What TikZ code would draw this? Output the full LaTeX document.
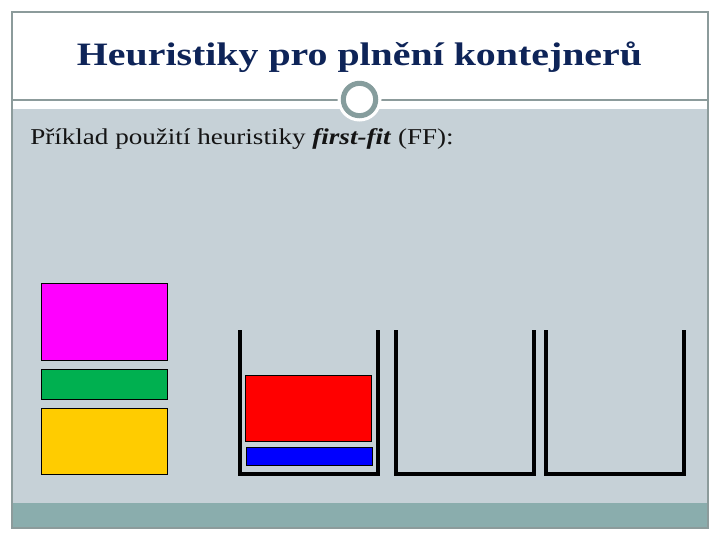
\documentclass[tikz,border=0pt]{standalone}
\usepackage{fontspec}
\usepackage{graphicx}
\setmainfont{Liberation Serif}
\definecolor{titlenavy}{RGB}{14,36,88}
\definecolor{panelgray}{RGB}{198,209,215}
\definecolor{barteal}{RGB}{138,173,173}
\definecolor{framegray}{RGB}{140,155,155}
\definecolor{ringgray}{RGB}{134,157,157}
\definecolor{bodytext}{RGB}{20,20,20}
\definecolor{itmagenta}{RGB}{255,0,255}
\definecolor{itgreen}{RGB}{0,176,80}
\definecolor{ityellow}{RGB}{255,204,0}
\definecolor{itred}{RGB}{255,0,0}
\definecolor{itblue}{RGB}{0,0,255}
\tikzset{
  item/.style={draw=black, line width=0.7pt},
  bin/.style={draw=black, line width=3pt, line join=miter},
}
\begin{document}
\begin{tikzpicture}[x=0.75pt,y=-0.75pt]
\useasboundingbox (0,0) rectangle (720,540);
\fill[white] (0,0) rectangle (720,540);
% panels
\fill[panelgray] (12,109) rectangle (708,503);
\fill[barteal] (12,503) rectangle (708,528);
\draw[framegray, line width=0.9pt] (12,12) rectangle (708,528);
\draw[framegray, line width=0.9pt] (12,100) -- (708,100);
% ornament circle
\fill[white] (359.5,99.5) circle (22);
\draw[ringgray, line width=3.8pt, fill=white] (359.5,99.5) circle (16.2);
% title
\node[anchor=base, text=titlenavy, font=\fontsize{24.5pt}{28pt}\selectfont\bfseries, inner sep=0pt] (title) at (359.5,65) {\scalebox{1.22}[1]{Heuristiky pro plnění kontejnerů}};
% body text
\node[anchor=base west, text=bodytext, font=\fontsize{17pt}{20pt}\selectfont, inner sep=0pt] (body) at (30,144.3) {\scalebox{1.195}[1]{Příklad použití heuristiky \textbf{\textit{first-fit}} (FF):}};
% items to pack
\draw[item, fill=itmagenta] (41,283) rectangle (167.5,360.5);
\draw[item, fill=itgreen] (41,369.5) rectangle (167.5,399.5);
\draw[item, fill=ityellow] (41,408.5) rectangle (167.5,474);
% bins
\draw[bin] (240,330) -- (240,474) -- (378,474) -- (378,330);
\draw[bin] (396,330) -- (396,474) -- (534,474) -- (534,330);
\draw[bin] (546,330) -- (546,474) -- (684,474) -- (684,330);
% packed items
\draw[item, fill=itred] (245.5,375.5) rectangle (371.5,441.5);
\draw[item, fill=itblue] (246.5,447) rectangle (372.5,465.5);
\end{tikzpicture}
\end{document}
